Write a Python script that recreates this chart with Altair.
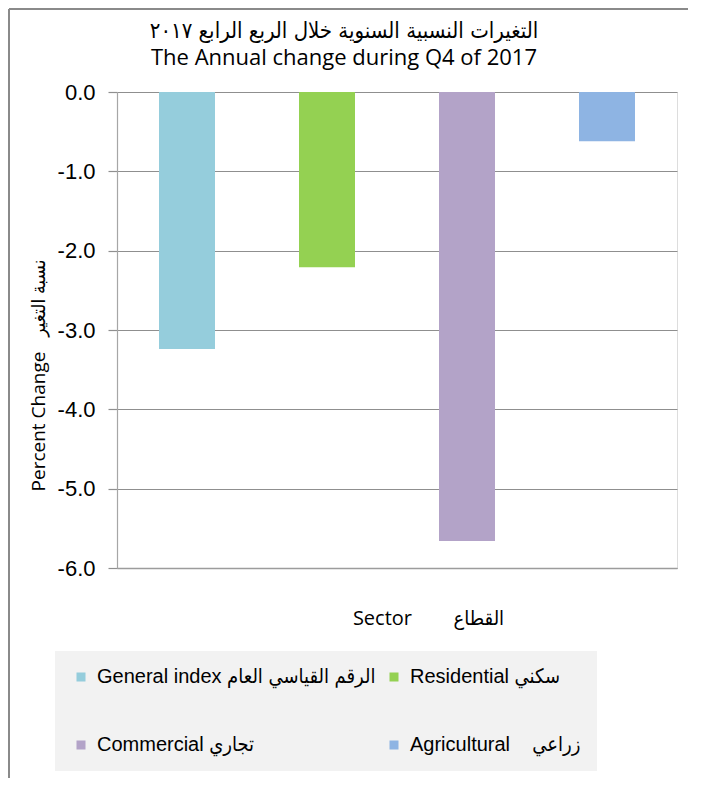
import altair as alt
import pandas as pd

# ---- data ----
sectors = [
    "General index الرقم القياسي العام",
    "Residential سكني",
    "Commercial تجاري",
    "Agricultural\u00a0\u00a0\u00a0 زراعي",
]
values = [-3.24, -2.21, -5.66, -0.62]
colors = ["#95CDDC", "#94D152", "#B3A3C8", "#8EB4E3"]
y_ticks = [0, -1, -2, -3, -4, -5, -6]

title_ar = "التغيرات النسبية السنوية خلال الربع الرابع ٢٠١٧"
title_en = "The Annual change during Q4 of 2017"
x_title = "Sector" + "\u00a0" * 8 + "القطاع"
y_title = "Percent Change" + "\u00a0\u00a0" + " نسبة التغير"

df = pd.DataFrame({"sector": sectors, "value": values})

# invisible trailing spacing widens the legend panel like the reference's
pad = "\u00a0" * 10
legend_label_expr = (
    "indexof(datum.label, 'Agricultural') >= 0 ? datum.label + '" + pad + "' : datum.label"
)

bars = alt.Chart(df).mark_bar().encode(
    x=alt.X(
        "sector:N",
        sort=sectors,
        scale=alt.Scale(paddingInner=0.6, paddingOuter=0.3),
        axis=alt.Axis(
            labels=False,
            ticks=False,
            grid=False,
            domain=True,
            domainColor="#9c9c9c",
            domainWidth=1.5,
            title=x_title,
            titleFont="Open Sans, DejaVu Sans Condensed",
            titleFontSize=20,
            titleFontWeight="normal",
            titleColor="#000000",
            titleX=311,
            titleY=50,
            titleAlign="center",
            titleBaseline="middle",
        ),
    ),
    y=alt.Y(
        "value:Q",
        scale=alt.Scale(domain=[-6, 0], nice=False),
        axis=alt.Axis(
            values=y_ticks,
            format=".1f",
            labelExpr="replace(datum.label, '\u2212', '-')",
            grid=True,
            gridColor="#8f8f8f",
            gridWidth=1.2,
            domain=True,
            domainColor="#a6a6a6",
            domainWidth=1.2,
            ticks=True,
            tickColor="#8f8f8f",
            tickSize=9,
            tickWidth=1.2,
            labelFont="Liberation Sans",
            labelFontSize=22,
            labelColor="#000000",
            labelPadding=13,
            title=y_title,
            titleFont="Open Sans, DejaVu Sans Condensed",
            titleFontSize=19,
            titleFontWeight="normal",
            titleColor="#000000",
            titleAngle=270,
            titleX=-79,
            titleY=283,
            titleAlign="center",
            titleBaseline="middle",
        ),
    ),
    color=alt.Color(
        "sector:N",
        scale=alt.Scale(domain=sectors, range=colors),
        legend=alt.Legend(
            title=None,
            orient="none",
            direction="horizontal",
            legendX=-62,
            legendY=559,
            columns=2,
            gridAlign="all",
            columnPadding=8,
            rowPadding=48,
            padding=16,
            fillColor="#F2F2F2",
            symbolType="square",
            symbolSize=81,
            symbolStrokeWidth=0,
            symbolOpacity=1,
            labelFont="Liberation Sans, DejaVu Sans Condensed",
            labelFontSize=20,
            labelColor="#000000",
            labelOffset=6,
            labelLimit=0,
            labelExpr=legend_label_expr,
        ),
    ),
)

frame = alt.Chart(alt.Data(values=[{}])).mark_rule(color="#8a8a8a", strokeWidth=2)
left_edge = frame.encode(x=alt.value(-108), y=alt.value(-83), y2=alt.value(686))
top_edge = frame.encode(x=alt.value(-108), x2=alt.value(571), y=alt.value(-83))

chart = alt.layer(bars, left_edge, top_edge).properties(
    width=560,
    height=476,
    autosize=alt.AutoSizeParams(type="none"),
    padding={"left": 109, "top": 84, "right": 11, "bottom": 210},
    title=alt.TitleParams(
        text=title_ar,
        subtitle=title_en,
        font="DejaVu Sans Condensed",
        fontSize=22,
        fontWeight="normal",
        color="#000000",
        subtitleFont="Open Sans",
        subtitleFontSize=22,
        subtitleColor="#000000",
        subtitlePadding=5,
        anchor="middle",
        dx=-53,
        dy=62,
        offset=0,
    ),
).configure_view(fill="#F2F2F2", stroke="transparent").configure(background="#FFFFFF")

chart.save("out.html", embed_options={"renderer": "svg", "actions": False})
